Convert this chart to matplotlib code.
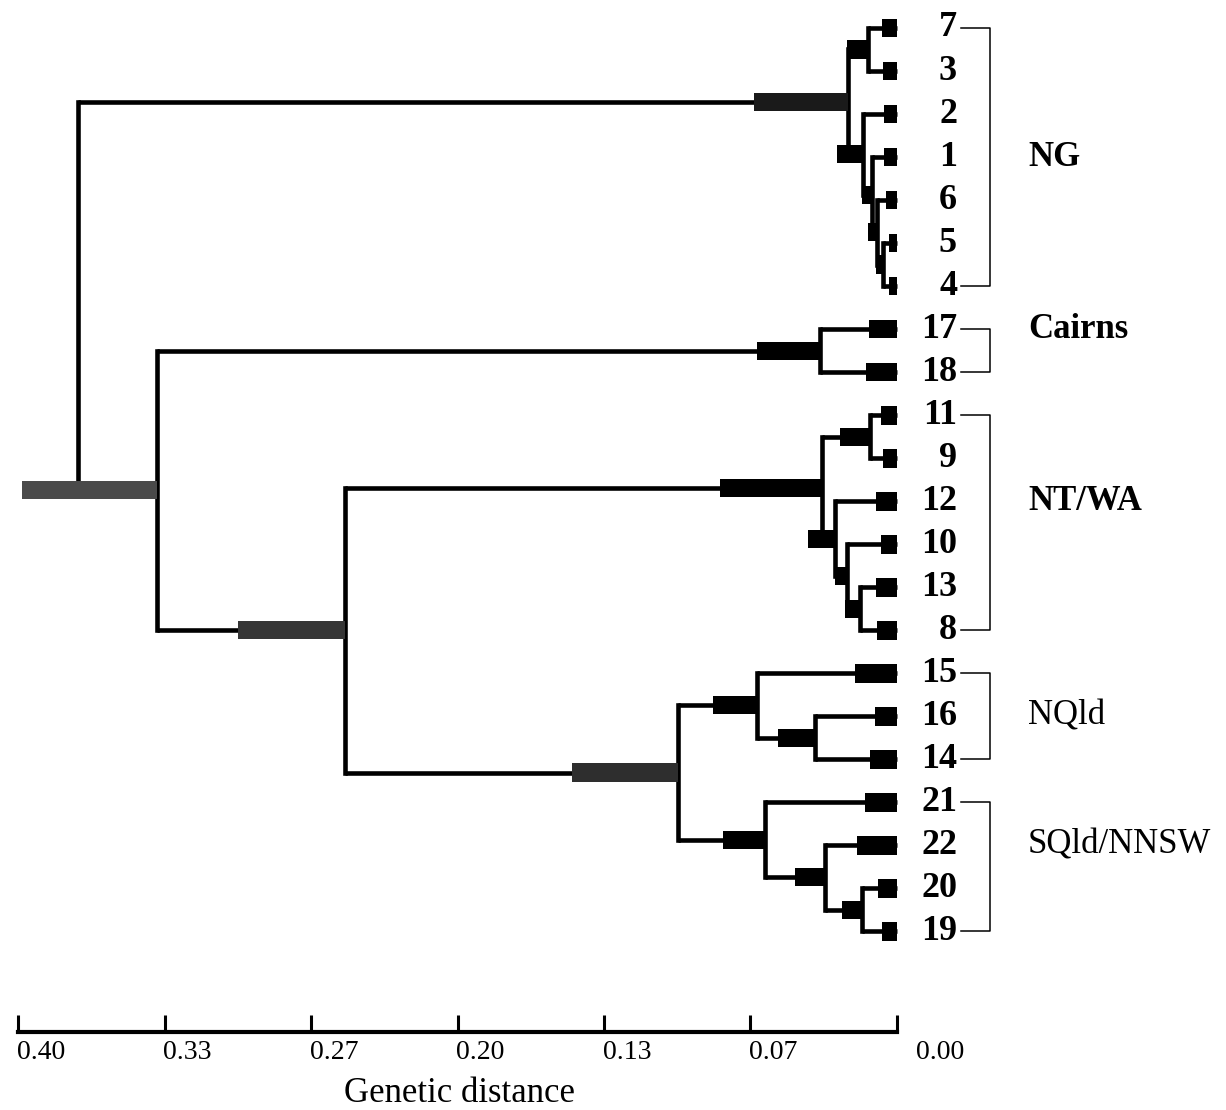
import matplotlib
matplotlib.use("Agg")
import matplotlib.pyplot as plt
import matplotlib.transforms as mtransforms

plt.rcParams['font.family'] = ['Liberation Serif', 'DejaVu Serif']

# leaves, top to bottom, with their own error bar (genetic distance)
leaf_labels = ['7', '3', '2', '1', '6', '5', '4', '17', '18', '11', '9', '12', '10',
               '13', '8', '15', '16', '14', '21', '22', '20', '19']
leaf_se = [0.0068, 0.0064, 0.006, 0.006, 0.005, 0.0036, 0.0036, 0.0127, 0.014, 0.0073,
           0.0064, 0.0096, 0.0073, 0.0096, 0.0091, 0.019, 0.010, 0.0123, 0.0146, 0.018,
           0.0086, 0.0068]

# internal nodes (children listed before parents)
node_names = ['A', 'E', 'D', 'C', 'B', 'NG', 'CA', 'N1', 'N2', 'N3', 'N4', 'NTWA',
              'Q1', 'NQ', 'S1', 'S2', 'SQ', 'QLD', 'BIG', 'REST', 'ROOT']
node_children = [('7', '3'), ('5', '4'), ('6', 'E'), ('1', 'D'), ('2', 'C'), ('A', 'B'),
                 ('17', '18'), ('11', '9'), ('13', '8'), ('10', 'N2'), ('12', 'N3'),
                 ('N1', 'N4'), ('16', '14'), ('15', 'Q1'), ('20', '19'), ('22', 'S1'),
                 ('21', 'S2'), ('NQ', 'SQ'), ('NTWA', 'QLD'), ('CA', 'BIG'), ('NG', 'REST')]
node_height = [0.0132, 0.0064, 0.0091, 0.0114, 0.0155, 0.0223, 0.035, 0.0123, 0.0168,
               0.0228, 0.0282, 0.0341, 0.0373, 0.0637, 0.0159, 0.0328, 0.0601, 0.0997,
               0.2512, 0.3367, 0.3727]
node_se = [0.0096, 0.003, 0.004, 0.0046, 0.012, 0.043, 0.0287, 0.0137, 0.0068, 0.0055,
           0.0123, 0.0464, 0.0168, 0.020, 0.0091, 0.0137, 0.0191, 0.048, 0.0487, 0.0614, 0.0]

# population groups
group_names = ['NG', 'Cairns', 'NT/WA', 'NQld', 'SQld/NNSW']
group_first = ['7', '17', '11', '15', '21']
group_last = ['4', '18', '8', '14', '19']
group_label_at = ['1', '17', '12', '16', '22']

tick_vals = [0.40, 0.3333, 0.2667, 0.20, 0.1333, 0.0667, 0.0]
tick_text = ['0.40', '0.33', '0.27', '0.20', '0.13', '0.07', '0.00']

fig = plt.figure(figsize=(12.26, 11.1), dpi=100)
ax = fig.add_axes([0, 0, 1, 1])
ax.set_xlim(0.4082, -0.1497)
ax.set_ylim(25.16, -0.651)
ax.axis('off')

ypos = {lab: i for i, lab in enumerate(leaf_labels)}
xpos = {lab: 0.0 for lab in leaf_labels}
for name, kids, h in zip(node_names, node_children, node_height):
    ypos[name] = (ypos[kids[0]] + ypos[kids[1]]) / 2
    xpos[name] = h

lw = 3.3
for name, kids in zip(node_names, node_children):
    h = xpos[name]
    ax.plot([h, h], [ypos[kids[0]], ypos[kids[1]]], color='black', lw=lw,
            solid_capstyle='projecting', zorder=2)
    for k in kids:
        ax.plot([h, xpos[k]], [ypos[k], ypos[k]], color='black', lw=lw,
                solid_capstyle='butt', zorder=2)

# error bars on the branch leading to each node
grey = {'REST': '#4a4a4a', 'BIG': '#353535', 'QLD': '#2e2e2e', 'NG': '#1a1a1a'}
for name, se in zip(node_names, node_se):
    if se > 0:
        ax.barh(ypos[name], se, left=xpos[name], height=0.42,
                color=grey.get(name, 'black'), zorder=3)
ax.barh(range(len(leaf_labels)), leaf_se, left=0.0, height=0.44, color='black', zorder=3)

# leaf labels
for lab in leaf_labels:
    ax.text(-0.0273, ypos[lab], lab, ha='right', va='center', fontsize=26,
            fontweight='bold')

# brackets and group names
for i, g in enumerate(group_names):
    y0, y1 = ypos[group_first[i]], ypos[group_last[i]]
    ax.plot([-0.029, -0.0425, -0.0425, -0.029], [y0, y0, y1, y1], color='black', lw=1.1)
    ax.text(-0.0596, ypos[group_label_at[i]], g, ha='left', va='center', fontsize=25,
            fontweight='bold' if i < 3 else 'normal')

# scale bar
sx0, sx1, sy = 18, 897, 1032
bx = fig.add_axes([sx0 / 1226, (1110 - sy) / 1110, (sx1 - sx0) / 1226, 0.02])
bx.set_xlim(0.40, 0.0)
bx.patch.set_visible(False)
for s in ['top', 'left', 'right']:
    bx.spines[s].set_visible(False)
bx.spines['bottom'].set_linewidth(3)
bx.set_yticks([])
bx.set_xticks(tick_vals)
bx.set_xticklabels(tick_text, fontsize=20)
bx.tick_params(axis='x', direction='in', length=12, width=2.2, pad=6)
for j, t in enumerate(bx.get_xticklabels()):
    dx = 43 if j == len(tick_text) - 1 else 23
    t.set_transform(t.get_transform() + mtransforms.ScaledTranslation(dx / 100, 0, fig.dpi_scale_trans))

fig.text(460 / 1226, 1 - 1093 / 1110, 'Genetic distance', ha='center', va='center', fontsize=25)

fig.savefig('out.png', dpi=100)
